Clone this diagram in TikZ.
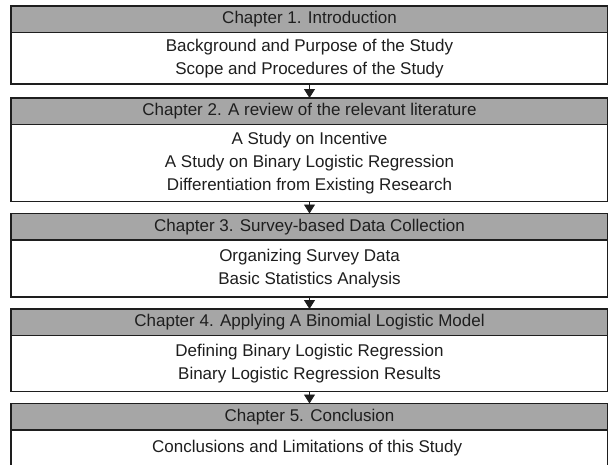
\documentclass[tikz,border=0pt]{standalone}
\usepackage{fontspec}
\setmainfont{Liberation Sans}
\usetikzlibrary{positioning,arrows.meta}
\definecolor{HeadGray}{RGB}{166,166,166}
\definecolor{EdgeDark}{RGB}{30,30,30}
\tikzset{
  flow/.style={-{Triangle[length=9pt,width=11pt]},line width=0.8pt,draw=EdgeDark},
  headbox/.style={draw=EdgeDark,fill=HeadGray,line width=1.1pt,minimum width=597pt,
    minimum height=26.5pt,inner sep=0pt,outer sep=0pt,
    font=\fontsize{17}{23}\selectfont,text=EdgeDark},
  bodybox/.style={draw=EdgeDark,fill=white,line width=1.1pt,minimum width=597pt,
    inner sep=0pt,outer sep=0pt,align=center,
    font=\fontsize{17}{23}\selectfont,text=EdgeDark}
}

\begin{document}
\begin{tikzpicture}
  \useasboundingbox (0,0) rectangle (608pt,-464pt);
  \clip (0,0) rectangle (608pt,-464pt);

  % chapter 1
  \node[headbox,anchor=north] (intro) at (309.5pt,-6pt) {Chapter 1. Introduction};
  \node[bodybox,below=0pt of intro,minimum height=51.5pt] (introbody) {
    Background and Purpose of the Study\\
    Scope and Procedures of the Study
  };

  % chapter 2
  \node[headbox,below=14pt of introbody] (review) {Chapter 2. A review of the relevant literature};
  \node[bodybox,below=0pt of review,minimum height=77pt] (reviewbody) {
    A Study on Incentive\\
    A Study on Binary Logistic Regression\\
    Differentiation from Existing Research
  };

  % chapter 3
  \node[headbox,below=12pt of reviewbody] (survey) {Chapter 3. Survey-based Data Collection};
  \node[bodybox,below=0pt of survey,minimum height=57pt] (surveybody) {
    Organizing Survey Data\\
    Basic Statistics Analysis
  };

  % chapter 4
  \node[headbox,below=12pt of surveybody] (model) {Chapter 4. Applying A Binomial Logistic Model};
  \node[bodybox,below=0pt of model,minimum height=56pt] (modelbody) {
    Defining Binary Logistic Regression\\
    Binary Logistic Regression Results
  };

  % chapter 5
  \node[headbox,below=12pt of modelbody] (concl) {Chapter 5. Conclusion};
  \node[bodybox,below=0pt of concl,minimum height=36pt] (conclbody) {
    Conclusions and Limitations of this Study
  };

  \draw[flow] (introbody) -- (review);
  \draw[flow] (reviewbody) -- (survey);
  \draw[flow] (surveybody) -- (model);
  \draw[flow] (modelbody) -- (concl);
\end{tikzpicture}
\end{document}
